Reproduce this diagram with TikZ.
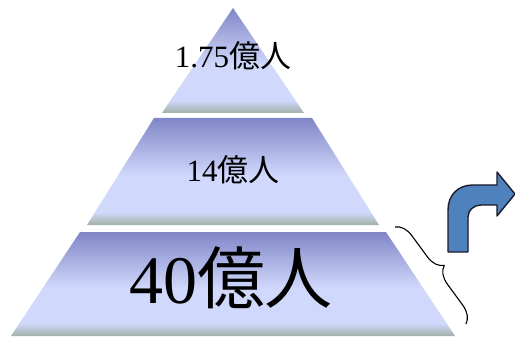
\documentclass[tikz,border=0pt]{standalone}
\usepackage{fontspec}
\setmainfont{Liberation Serif}
\newfontfamily\cjk{Noto Sans CJK JP}
\usetikzlibrary{decorations.pathreplacing}
\definecolor{bdark}{HTML}{8086C6}
\definecolor{blight}{HTML}{D0D8FC}
\definecolor{bgrey}{HTML}{A0B2A6}
\definecolor{arrowblue}{HTML}{4F81BD}
\definecolor{arrowline}{HTML}{1A1A2A}
\pgfdeclareverticalshading{bandshade}{100bp}{color(0bp)=(bgrey); color(25bp)=(bgrey); color(31bp)=(blight); color(48bp)=(blight); color(75bp)=(bdark); color(100bp)=(bdark)}
\tikzset{
  band/.style={shading=bandshade},
  lbl/.style={anchor=base, inner sep=0pt}
}
\begin{document}
\begin{tikzpicture}[x=1pt,y=-1pt]
\useasboundingbox (0,0) rectangle (515,337);
% pyramid bands
\path[band] (233,8) -- (304,113) -- (162,113) -- cycle;
\path[band] (154,118) -- (312,118) -- (379,225) -- (87,225) -- cycle;
\path[band] (80,232) -- (386,232) -- (455,336) -- (11,336) -- cycle;
% labels
\node[lbl] (t1) at (233,68) {\fontsize{31}{31}\selectfont 1.75{\cjk 億人}};
\node[lbl] (t2) at (233,182) {\fontsize{31}{31}\selectfont 14{\cjk 億人}};
\node[lbl] (t3) at (231,303) {\fontsize{68}{68}\selectfont 40{\cjk 億人}};
% brace
\coordinate (b1) at (395,227);
\coordinate (b2) at (466,324);
\draw[decorate, decoration={brace, amplitude=17pt}, line width=1.1pt] (b1) -- (b2);
% bent arrow
\draw[fill=arrowblue, draw=arrowline, line width=1.4pt, line join=round]
  (448,252) -- (448,210) .. controls (448,195) and (458,185) .. (473,185)
  -- (497,185) -- (497,172) -- (515,194) -- (497,216) -- (497,205) -- (481,205)
  .. controls (474,205) and (468,210) .. (468,217) -- (468,252) -- cycle;
\end{tikzpicture}
\end{document}
